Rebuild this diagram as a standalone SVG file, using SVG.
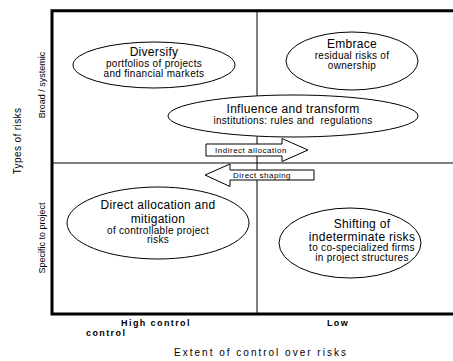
<svg xmlns="http://www.w3.org/2000/svg" width="453" height="361" viewBox="0 0 453 361">
  <style>
    text { font-family: "Liberation Sans", Arial, sans-serif; fill: #000; }
    .frame { stroke: #000; stroke-width: 3; fill: none; }
    .divider { stroke: #000; stroke-width: 1; fill: none; }
    .oval { fill: #fff; stroke: #000; stroke-width: 1; }
    .arrow { fill: #fff; stroke: #000; stroke-width: 1; }
    .title { font-size: 12px; letter-spacing: 0.3px; text-anchor: middle; }
    .sub { font-size: 10px; letter-spacing: 0.3px; text-anchor: middle; }
    .arrowlabel { font-size: 8px; letter-spacing: 0.5px; text-anchor: middle; }
    .scale { font-size: 9px; text-anchor: middle; }
    .tick { font-size: 9px; font-weight: bold; letter-spacing: 1.4px; }
    .axis { font-size: 10px; letter-spacing: 2px; text-anchor: middle; }
  </style>

  <!-- quadrant frame and dividers -->
  <g id="frame">
    <polyline class="frame" points="453,10.7 52,10.7 52,314 453,314"/>
    <line class="divider" x1="52" y1="163" x2="453" y2="163"/>
    <line class="divider" x1="257" y1="11" x2="257" y2="314"/>
  </g>

  <!-- axis labels -->
  <g id="axis-labels">
    <text class="axis" transform="translate(21,141) rotate(-90)" style="font-size:10px;letter-spacing:0.4px">Types of risks</text>
    <text class="scale" transform="translate(45,85) rotate(-90)">Broad / systemic</text>
    <text class="scale" transform="translate(45,238) rotate(-90)">Specific to project</text>
    <text class="tick" x="156" y="326" text-anchor="middle">High control</text>
    <text class="tick" x="86" y="335.7">control</text>
    <text class="tick" x="338" y="326" text-anchor="middle">Low</text>
    <text class="axis" x="261" y="356">Extent of control over risks</text>
  </g>

  <g id="diversify">
    <ellipse class="oval" cx="154" cy="65" rx="81" ry="23"/>
    <text class="title" x="154" y="56">Diversify</text>
    <text class="sub" x="154" y="67">portfolios of projects</text>
    <text class="sub" x="154" y="77">and financial markets</text>
  </g>

  <g id="embrace">
    <ellipse class="oval" cx="352" cy="61" rx="66" ry="29"/>
    <text class="title" x="352" y="48">Embrace</text>
    <text class="sub" x="352" y="59">residual risks of</text>
    <text class="sub" x="352" y="69">ownership</text>
  </g>

  <g id="influence">
    <ellipse class="oval" cx="293" cy="116" rx="125" ry="21"/>
    <text class="title" x="293" y="113">Influence and transform</text>
    <text class="sub" x="293" y="124" xml:space="preserve">institutions: rules and  regulations</text>
  </g>

  <g id="direct-allocation">
    <ellipse class="oval" cx="158" cy="223" rx="91" ry="36"/>
    <text class="title" x="158" y="209">Direct allocation and</text>
    <text class="title" x="158" y="222.5">mitigation</text>
    <text class="sub" x="158" y="233.5">of controllable project</text>
    <text class="sub" x="158" y="243">risks</text>
  </g>

  <g id="shifting">
    <ellipse class="oval" cx="350" cy="243" rx="71" ry="35"/>
    <text class="title" x="362" y="228">Shifting of</text>
    <text class="title" x="362" y="240.5">indeterminate risks</text>
    <text class="sub" x="362" y="251">to co-specialized firms</text>
    <text class="sub" x="362" y="261">in project structures</text>
  </g>

  <!-- block arrows between quadrants -->
  <g id="connectors">
    <g id="indirect-allocation">
      <polygon class="arrow" points="206,144 282,144 282,138.5 308,150 282,161.5 282,156 206,156"/>
      <text class="arrowlabel" x="251" y="152.5">Indirect allocation</text>
    </g>
    <g id="direct-shaping">
      <polygon class="arrow" points="314,170 230,170 230,164 205,175 230,186.5 230,180 314,180"/>
      <text class="arrowlabel" x="262" y="178.3">Direct shaping</text>
    </g>
  </g>
</svg>
